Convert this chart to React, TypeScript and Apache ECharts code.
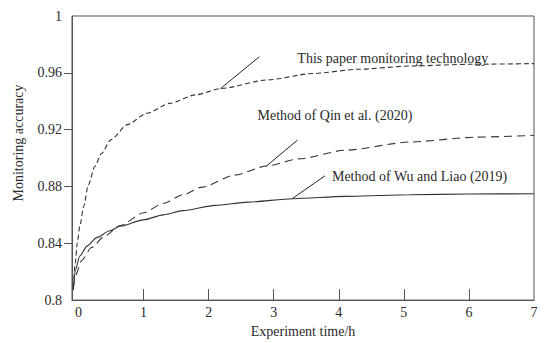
import React, { useEffect, useRef } from "react";
import * as echarts from "echarts";

const xLabelValues = [0, 1, 2, 3, 4, 5, 6, 7];
const xTickValues = [1, 2, 3, 4, 5, 6];
const yLabelValues = [0.8, 0.84, 0.88, 0.92, 0.96, 1];
const yTickValues = [0.84, 0.88, 0.92, 0.96];

const xName = "Experiment time/h";
const yName = "Monitoring accuracy";

const seriesNames = [
  "This paper monitoring technology",
  "Method of Qin et al. (2020)",
  "Method of Wu and Liao (2019)",
];

const thisPaper: number[][] = [
  [-0.08, 0.809], [-0.05, 0.826], [-0.02, 0.84], [0.02, 0.852], [0.08, 0.866],
  [0.15, 0.881], [0.25, 0.894], [0.35, 0.903], [0.5, 0.913], [0.75, 0.9235],
  [1.05, 0.9315], [1.4, 0.9385], [1.8, 0.9445], [2.2, 0.949], [2.9, 0.955],
  [3.6, 0.9595], [4.3, 0.9625], [5.1, 0.9648], [6.0, 0.966], [7.0, 0.9665],
];

const qin: number[][] = [
  [-0.08, 0.809], [-0.05, 0.817], [0.05, 0.828], [0.2, 0.837], [0.4, 0.845],
  [0.64, 0.8525], [1.0, 0.8615], [1.3, 0.868], [1.6, 0.874], [1.9, 0.8795],
  [2.4, 0.888], [2.9, 0.8945], [3.4, 0.8995], [4.1, 0.9055], [5.1, 0.9113],
  [6.1, 0.9147], [7.0, 0.916],
];

const wu: number[][] = [
  [-0.08, 0.807], [-0.05, 0.821], [0.02, 0.831], [0.13, 0.838], [0.28, 0.844],
  [0.48, 0.8488], [0.64, 0.852], [1.0, 0.8565], [1.3, 0.86], [1.6, 0.863],
  [2.1, 0.8667], [2.6, 0.869], [3.3, 0.8714], [4.1, 0.873], [5.1, 0.8742],
  [6.0, 0.8747], [7.0, 0.8749],
];

// anchor points of the leader lines on each curve (data coordinates)
const annotationAnchors: number[][] = [
  [2.18, 0.9488],
  [2.89, 0.8944],
  [3.28, 0.8713],
];

const FONT = "Liberation Serif, Times New Roman, serif";
const INK = "#2a2a2a";

export default function App() {
  const ref = useRef<HTMLDivElement>(null);
  useEffect(() => {
    if (!ref.current) return;
    const chart = echarts.init(ref.current, undefined, { renderer: "svg" });
    const mk = (name: string, data: number[][], dash: any) => ({
      name,
      type: "line",
      data,
      symbol: "none",
      smooth: 0.25,
      smoothMonotone: "x",
      lineStyle: { color: "#333", width: 1.1, type: dash },
    });
    chart.setOption({
      animation: false,
      backgroundColor: "#fff",
      grid: {
        left: 72,
        right: 16,
        top: 16,
        bottom: 42,
        show: true,
        borderColor: "#555",
        borderWidth: 1,
      },
      xAxis: {
        type: "value",
        min: -0.1,
        max: 7,
        name: xName,
        nameLocation: "middle",
        nameGap: 22,
        nameTextStyle: { fontFamily: FONT, fontSize: 14, color: INK },
        axisLine: { onZero: false, lineStyle: { color: "#555", width: 1 } },
        axisTick: {
          show: true,
          inside: true,
          length: 11,
          customValues: xTickValues,
          lineStyle: { color: "#555" },
        },
        axisLabel: {
          customValues: xLabelValues,
          fontFamily: FONT,
          fontSize: 14,
          color: INK,
          margin: 5,
        },
        splitLine: { show: false },
      },
      yAxis: {
        type: "value",
        min: 0.8,
        max: 1,
        axisLine: { show: true, onZero: false, lineStyle: { color: "#555", width: 1 } },
        axisTick: {
          show: true,
          inside: false,
          length: 8,
          customValues: yTickValues,
          lineStyle: { color: "#555" },
        },
        axisLabel: {
          customValues: yLabelValues,
          fontFamily: FONT,
          fontSize: 14,
          color: INK,
          margin: 10,
          formatter: (v: number) => String(Number(v.toFixed(2))),
        },
        splitLine: { show: false },
      },
      series: [
        mk(seriesNames[0], thisPaper, [5, 3]),
        mk(seriesNames[1], qin, [8, 5]),
        mk(seriesNames[2], wu, "solid"),
      ],
    });

    const lineEnds = [
      [39, -32],
      [31, -26],
      [33, -23],
    ];
    const textPos = [
      [77, -30],
      [-9, -51],
      [40, -22],
    ];
    const graphics: any[] = [];
    annotationAnchors.forEach((a, i) => {
      const p = chart.convertToPixel({ gridIndex: 0 }, a) as number[];
      graphics.push({
        type: "line",
        shape: {
          x1: p[0],
          y1: p[1],
          x2: p[0] + lineEnds[i][0],
          y2: p[1] + lineEnds[i][1],
        },
        style: { stroke: "#222", lineWidth: 1 },
      });
      graphics.push({
        type: "text",
        x: p[0] + textPos[i][0],
        y: p[1] + textPos[i][1],
        style: {
          text: seriesNames[i],
          fontFamily: FONT,
          fontSize: 14,
          fill: INK,
          align: "left",
          verticalAlign: "middle",
        },
      });
    });
    graphics.push({
      type: "text",
      x: 18,
      y: 143,
      rotation: Math.PI / 2,
      style: {
        text: yName,
        fontFamily: FONT,
        fontSize: 14,
        fill: INK,
        align: "center",
        verticalAlign: "middle",
      },
    });
    chart.setOption({ graphic: graphics });

    return () => chart.dispose();
  }, []);
  return (
    <div
      ref={ref}
      style={{ position: "fixed", left: 0, top: 0, width: 550, height: 343 }}
    />
  );
}
